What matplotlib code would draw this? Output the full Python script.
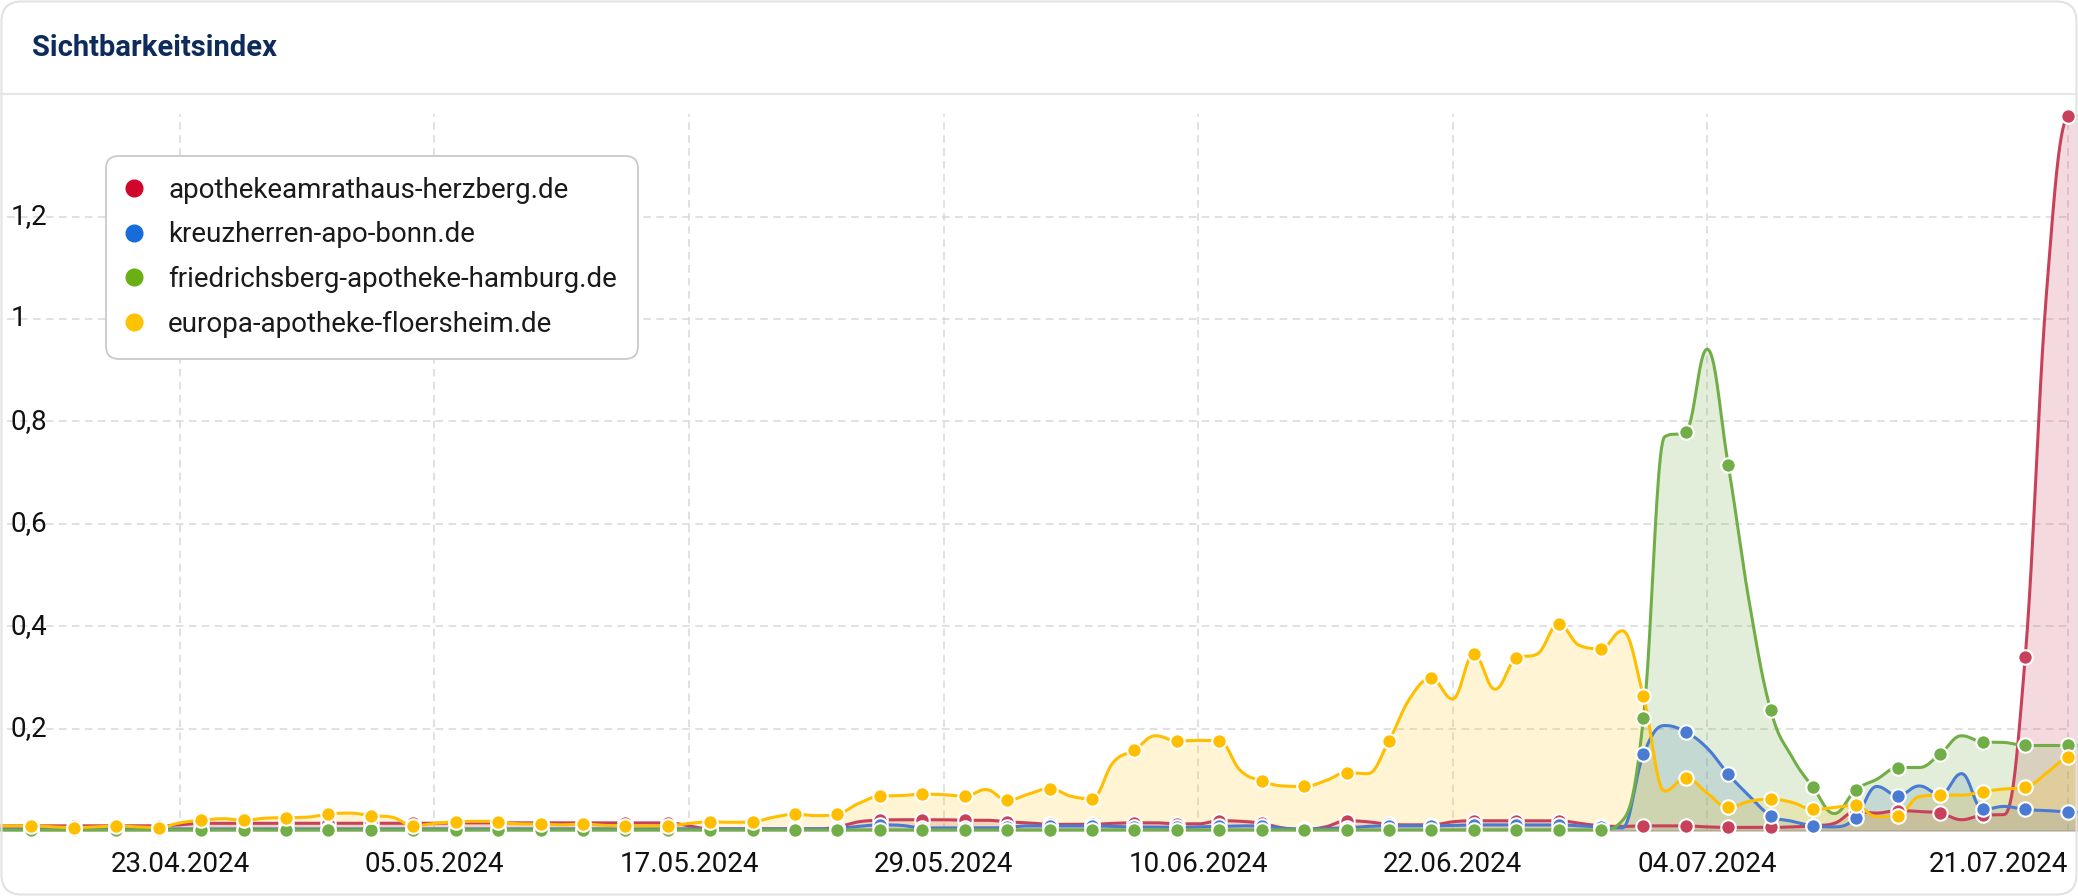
import numpy as np
import matplotlib
matplotlib.use("Agg")
import matplotlib.pyplot as plt
import matplotlib.dates as mdates
from matplotlib.lines import Line2D
from matplotlib.patches import FancyBboxPatch
from matplotlib.transforms import IdentityTransform

plt.rcParams['font.family'] = ['Roboto', 'DejaVu Sans']

# ---------------- data (daily, 14.04.2024 - 22.07.2024) ----------------
dates = np.arange(np.datetime64('2024-04-14'), np.datetime64('2024-07-23'))

series_names = ["apothekeamrathaus-herzberg.de", "kreuzherren-apo-bonn.de",
                "friedrichsberg-apotheke-hamburg.de", "europa-apotheke-floersheim.de"]

red_vals = [
    0.010, 0.010, 0.010, 0.010, 0.010, 0.010, 0.010, 0.010, 0.010, 0.012,
    0.015, 0.015, 0.015, 0.015, 0.015, 0.015, 0.015, 0.015, 0.015, 0.015,
    0.015, 0.015, 0.016, 0.016, 0.016, 0.016, 0.016, 0.016, 0.016, 0.016,
    0.016, 0.016, 0.016, 0.010, 0.004, 0.004, 0.004, 0.004, 0.004, 0.004,
    0.008, 0.018, 0.021, 0.022, 0.022, 0.022, 0.021, 0.021, 0.018, 0.016,
    0.013, 0.013, 0.013, 0.015, 0.016, 0.016, 0.014, 0.014, 0.020, 0.019,
    0.015, 0.006, 0.003, 0.008, 0.020, 0.018, 0.013, 0.012, 0.012, 0.018,
    0.020, 0.020, 0.020, 0.020, 0.020, 0.015, 0.010, 0.009, 0.010, 0.010,
    0.010, 0.008, 0.007, 0.007, 0.007, 0.008, 0.010, 0.015, 0.038, 0.035,
    0.040, 0.038, 0.035, 0.022, 0.031, 0.032, 0.340, 1.050, 1.397, 1.420,
]
blue_vals = [
    0.004, 0.004, 0.004, 0.004, 0.004, 0.004, 0.004, 0.004, 0.004, 0.004,
    0.004, 0.004, 0.004, 0.004, 0.004, 0.004, 0.004, 0.004, 0.004, 0.004,
    0.004, 0.004, 0.004, 0.004, 0.004, 0.004, 0.004, 0.004, 0.004, 0.004,
    0.004, 0.004, 0.004, 0.004, 0.004, 0.004, 0.004, 0.004, 0.004, 0.004,
    0.005, 0.009, 0.012, 0.011, 0.006, 0.006, 0.006, 0.006, 0.007, 0.010,
    0.010, 0.010, 0.010, 0.009, 0.008, 0.008, 0.007, 0.008, 0.009, 0.010,
    0.010, 0.005, 0.004, 0.005, 0.006, 0.009, 0.010, 0.010, 0.010, 0.011,
    0.012, 0.012, 0.012, 0.012, 0.012, 0.010, 0.008, 0.006, 0.150, 0.206,
    0.193, 0.162, 0.111, 0.068, 0.030, 0.019, 0.010, 0.008, 0.026, 0.087,
    0.069, 0.088, 0.071, 0.112, 0.042, 0.048, 0.042, 0.040, 0.037, 0.036,
]
green_vals = [
    0.002, 0.002, 0.002, 0.002, 0.002, 0.002, 0.002, 0.002, 0.002, 0.002,
    0.002, 0.002, 0.002, 0.002, 0.002, 0.002, 0.002, 0.002, 0.002, 0.002,
    0.002, 0.002, 0.002, 0.002, 0.002, 0.002, 0.002, 0.002, 0.002, 0.002,
    0.002, 0.002, 0.002, 0.002, 0.002, 0.002, 0.002, 0.002, 0.002, 0.002,
    0.002, 0.002, 0.002, 0.002, 0.002, 0.002, 0.002, 0.002, 0.002, 0.002,
    0.002, 0.002, 0.002, 0.002, 0.002, 0.002, 0.002, 0.002, 0.002, 0.002,
    0.002, 0.002, 0.002, 0.002, 0.002, 0.002, 0.002, 0.002, 0.002, 0.002,
    0.002, 0.002, 0.002, 0.002, 0.002, 0.002, 0.002, 0.020, 0.221, 0.770,
    0.780, 0.941, 0.714, 0.444, 0.236, 0.145, 0.085, 0.034, 0.080, 0.101,
    0.124, 0.124, 0.151, 0.186, 0.174, 0.173, 0.167, 0.167, 0.167, 0.167,
]
yellow_vals = [
    0.010, 0.010, 0.010, 0.008, 0.0065, 0.008, 0.010, 0.008, 0.0065, 0.016,
    0.021, 0.024, 0.021, 0.025, 0.026, 0.027, 0.033, 0.035, 0.030, 0.027,
    0.010, 0.015, 0.018, 0.019, 0.018, 0.014, 0.0137, 0.012, 0.0137, 0.011,
    0.010, 0.010, 0.010, 0.015, 0.018, 0.017, 0.018, 0.027, 0.033, 0.030,
    0.033, 0.054, 0.068, 0.069, 0.072, 0.071, 0.068, 0.081, 0.060, 0.072,
    0.083, 0.068, 0.063, 0.134, 0.158, 0.186, 0.176, 0.177, 0.176, 0.118,
    0.098, 0.088, 0.087, 0.098, 0.114, 0.112, 0.176, 0.260, 0.298, 0.258,
    0.345, 0.277, 0.337, 0.346, 0.404, 0.362, 0.356, 0.391, 0.263, 0.078,
    0.104, 0.074, 0.046, 0.058, 0.062, 0.056, 0.042, 0.046, 0.050, 0.028,
    0.030, 0.067, 0.070, 0.070, 0.077, 0.082, 0.085, 0.113, 0.144, 0.150,
]

tick_dates = ['2024-04-23', '2024-05-05', '2024-05-17', '2024-05-29',
              '2024-06-10', '2024-06-22', '2024-07-04', '2024-07-21']
y_ticks = [0.2, 0.4, 0.6, 0.8, 1.0, 1.2]
y_tick_labels = ["0,2", "0,4", "0,6", "0,8", "1", "1,2"]

line_colors = ['#C8415B', '#4A7BD2', '#72AE47', '#FFBF00']
legend_colors = ['#D0062A', '#176BDA', '#6AAF14', '#FFC200']
fill_alpha = [0.2, 0.2, 0.2, 0.17]


# ---------------- Highcharts-like spline ----------------
def hc_spline(x, y, smoothing=1.5, n=24):
    x = np.asarray(x, float)
    y = np.asarray(y, float)
    N = len(x)
    denom = smoothing + 1
    lcx, lcy = x.copy(), y.copy()
    rcx, rcy = x.copy(), y.copy()
    for i in range(1, N - 1):
        px, py = x[i], y[i]
        lx, ly = x[i - 1], y[i - 1]
        nx, ny = x[i + 1], y[i + 1]
        lcx_ = (smoothing * px + lx) / denom
        lcy_ = (smoothing * py + ly) / denom
        rcx_ = (smoothing * px + nx) / denom
        rcy_ = (smoothing * py + ny) / denom
        corr = 0.0
        if rcx_ != lcx_:
            corr = (rcy_ - lcy_) * (rcx_ - px) / (rcx_ - lcx_) + py - rcy_
        lcy_ += corr
        rcy_ += corr
        if lcy_ > ly and lcy_ > py:
            lcy_ = max(ly, py); rcy_ = 2 * py - lcy_
        elif lcy_ < ly and lcy_ < py:
            lcy_ = min(ly, py); rcy_ = 2 * py - lcy_
        if rcy_ > ny and rcy_ > py:
            rcy_ = max(ny, py); lcy_ = 2 * py - rcy_
        elif rcy_ < ny and rcy_ < py:
            rcy_ = min(ny, py); lcy_ = 2 * py - rcy_
        lcx[i], lcy[i], rcx[i], rcy[i] = lcx_, lcy_, rcx_, rcy_
    t = np.linspace(0, 1, n)[:, None]
    X, Y = [], []
    for i in range(1, N):
        P = np.array([[x[i - 1], y[i - 1]], [rcx[i - 1], rcy[i - 1]],
                      [lcx[i], lcy[i]], [x[i], y[i]]])
        B = ((1 - t) ** 3) * P[0] + 3 * ((1 - t) ** 2) * t * P[1] \
            + 3 * (1 - t) * (t ** 2) * P[2] + (t ** 3) * P[3]
        if i > 1:
            B = B[1:]
        X.append(B[:, 0]); Y.append(B[:, 1])
    return np.concatenate(X), np.concatenate(Y)


# ---------------- figure ----------------
W, H = 2078, 896
fig = plt.figure(figsize=(W / 100, H / 100), dpi=100)
fig.patch.set_facecolor('white')

px_per_unit = 512.0
y0_px = 831.0          # pixel row of value 0
ylo, yhi = -0.01, 1.40
ax_bottom_px = y0_px - ylo * px_per_unit
ax_top_px = y0_px - yhi * px_per_unit
ax = fig.add_axes([0, 1 - ax_bottom_px / H, 1, (ax_bottom_px - ax_top_px) / H])
ax.set_facecolor('none')

xnum = mdates.date2num(dates)
d0 = mdates.date2num(np.datetime64('2024-04-16'))
px_per_day = 21.21
x_left = d0 - 31.5 / px_per_day
x_right = d0 + (W - 31.5) / px_per_day
ax.set_xlim(x_left, x_right)
ax.set_ylim(ylo, yhi)

for s in ax.spines.values():
    s.set_visible(False)

# grid
grid_c = '#d9d9d9'
tnum = mdates.date2num(np.array(tick_dates, dtype='datetime64[D]'))
ax.vlines(tnum, 0, yhi, colors=grid_c, linestyles=(0, (5, 3.5)), linewidth=1.1, zorder=0)
ax.hlines(y_ticks, d0 - 24.5 / px_per_day, tnum[-1], colors=grid_c,
          linestyles=(0, (5, 3.5)), linewidth=1.1, zorder=0)
ax.axhline(0, color='#cfcfcf', linewidth=1.4, zorder=0.5)

ax.set_xticks(tnum)
ax.set_xticklabels([np.datetime64(t, 'D').item().strftime('%d.%m.%Y') for t in tick_dates])
ax.tick_params(axis='x', length=0, pad=11, labelsize=20, labelcolor='#111111')
ax.get_xticklabels()[-1].set_horizontalalignment('right')
ax.set_yticks([])

for v, lab in zip(y_ticks, y_tick_labels):
    ax.text(11 / W, v, lab, transform=ax.get_yaxis_transform(), ha='left', va='center',
            fontsize=20, color='#111111', zorder=1)

# series: fills below, then lines, then markers
all_vals = [red_vals, blue_vals, green_vals, yellow_vals]
for k, vals in enumerate(all_vals):
    vals = np.asarray(vals, float)
    X, Y = hc_spline(xnum, vals)
    ax.fill_between(X, 0, Y, color=line_colors[k], alpha=fill_alpha[k], linewidth=0, zorder=2 + k * 0.1)
    ax.plot(X, Y, color=line_colors[k], linewidth=2.2, zorder=3 + k * 0.1, solid_capstyle='round')
    mk = slice(2, 99, 2)
    ax.plot(xnum[mk], vals[mk], linestyle='none', marker='o', markersize=10.4,
            markerfacecolor=line_colors[k], markeredgecolor='white', markeredgewidth=1.5,
            zorder=4 + k * 0.1, clip_on=False)

# legend
handles = [Line2D([], [], linestyle='none', marker='o', markersize=12,
                  markerfacecolor=c, markeredgecolor=c) for c in legend_colors]
leg = fig.legend(handles, series_names, loc='upper left',
                 bbox_to_anchor=(106 / W, 1 - 156 / H), frameon=True, fancybox=True,
                 fontsize=20, labelspacing=0.64, borderpad=0.74, handlelength=0.55,
                 handletextpad=0.95, borderaxespad=0)
fr = leg.get_frame()
fr.set_edgecolor('#c9c9c9')
fr.set_linewidth(1.3)
fr.set_facecolor('white')
fr.set_alpha(1)
fr.set_boxstyle('round,pad=0,rounding_size=0.45')
for t in leg.get_texts():
    t.set_color('#1a1a1a')
leg.set_zorder(20)

# header
fig.text(32 / W, 1 - 48 / H, 'Sichtbarkeitsindex', fontsize=21, fontweight='bold',
         color='#0d2c5c', ha='left', va='center')
fig.add_artist(Line2D([0, 1], [1 - 94 / H, 1 - 94 / H], color='#e6e6e6', linewidth=1.5))

# card border
card = FancyBboxPatch((1.5, 1.5), W - 3, H - 3, boxstyle='round,pad=0,rounding_size=20',
                      transform=IdentityTransform(), facecolor='none',
                      edgecolor='#e2e2e2', linewidth=1.5)
fig.add_artist(card)

fig.savefig('out.png', dpi=100, facecolor='white')
